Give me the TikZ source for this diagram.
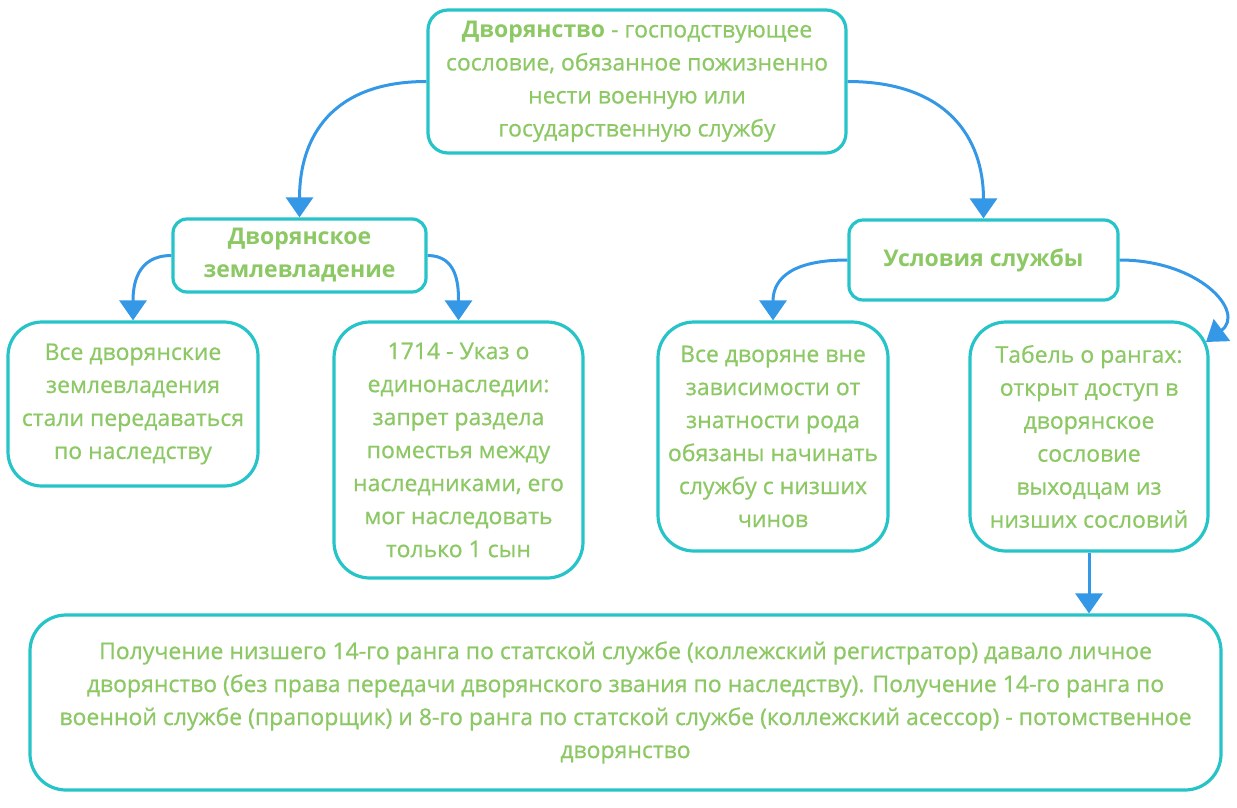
\documentclass[tikz,border=0pt]{standalone}
\usepackage{fontspec}
\setmainfont{Open Sans}[UprightFeatures={FakeBold=0.6}]
\usetikzlibrary{arrows.meta}
\definecolor{txtgreen}{RGB}{140,200,100}
\definecolor{boxteal}{RGB}{38,196,200}
\definecolor{arrblue}{RGB}{52,152,230}
\tikzset{
  box/.style={draw=boxteal, line width=3.2pt, fill=white, text=txtgreen, align=center,
    inner sep=0pt, font=\fontsize{23}{33}\selectfont},
  conn/.style={draw=arrblue, line width=3pt, -{Triangle[width=27pt,length=20pt]}}
}
\begin{document}
\begin{tikzpicture}[x=1pt,y=-1pt]
\useasboundingbox (0,0) rectangle (1237,807);
\node[box, rounded corners=20pt, minimum width=418pt, minimum height=143pt] (top) at (637,81.5)
  {\textbf{Дворянство} - господствующее\\сословие, обязанное пожизненно\\нести военную или\\государственную службу};
\node[box, rounded corners=14pt, minimum width=253pt, minimum height=73pt] (zeml) at (299.5,255.5)
  {\textbf{Дворянское}\\\textbf{землевладение}};
\node[box, rounded corners=14pt, minimum width=269pt, minimum height=80pt] (usl) at (983.5,260)
  {\textbf{Условия службы}};
\node[box, rounded corners=34pt, minimum width=250pt, minimum height=164pt] (b1) at (133,404)
  {Все дворянские\\землевладения\\стали передаваться\\по наследству};
\node[box, rounded corners=36pt, minimum width=249pt, minimum height=256pt] (b2) at (458.5,450)
  {1714 - Указ о\\единонаследии:\\запрет раздела\\поместья между\\наследниками, его\\мог наследовать\\только 1 сын};
\node[box, rounded corners=36pt, minimum width=230pt, minimum height=229pt] (b3) at (773,436.5)
  {Все дворяне вне\\зависимости от\\знатности рода\\обязаны начинать\\службу с низших\\чинов};
\node[box, rounded corners=36pt, minimum width=238pt, minimum height=229pt] (b4) at (1089,436.5)
  {Табель о рангах:\\открыт доступ в\\дворянское\\сословие\\выходцам из\\низших сословий};
\node[box, rounded corners=36pt, minimum width=1191pt, minimum height=175pt] (bot) at (625.5,702.5)
  {Получение низшего 14-го ранга по статской службе (коллежский регистратор) давало личное\\
   дворянство (без права передачи дворянского звания по наследству). Получение 14-го ранга по\\
   военной службе (прапорщик) и 8-го ранга по статской службе (коллежский асессор) - потомственное\\
   дворянство};
% connectors
\draw[conn] (top.west) .. controls +(-95,0) and +(0,-80) .. (zeml.north);
\draw[conn] (top.east) .. controls +(100,0) and +(0,-80) .. (usl.north);
\draw[conn] (zeml.west) .. controls +(-35,0) and +(0,-35) .. (b1.north);
\draw[conn] (zeml.east) .. controls +(30,0) and +(0,-35) .. (b2.north);
\draw[conn] (usl.west) .. controls +(-65,0) and +(0,-35) .. (b3.north);
\coordinate (b4c) at (1206,342);
\draw[conn] (usl.east) .. controls +(80,0) and +(40,-30) .. (b4c);
\draw[conn] (b4.south) -- (bot.north -| b4.south);
\end{tikzpicture}
\end{document}
